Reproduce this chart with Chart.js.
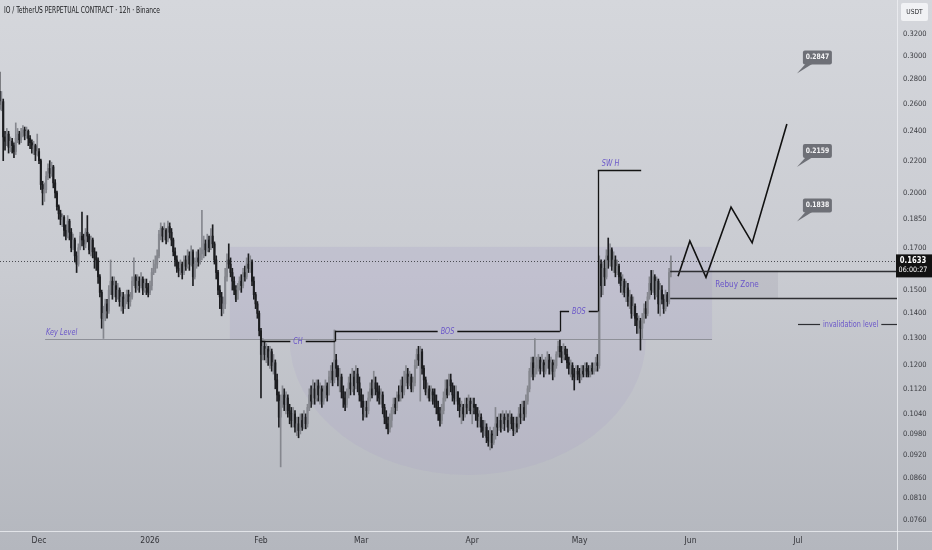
<!DOCTYPE html>
<html>
<head>
<meta charset="utf-8">
<title>IO / TetherUS PERPETUAL CONTRACT · 12h</title>
<script src="https://cdn.jsdelivr.net/npm/chart.js@4.4.1/dist/chart.umd.min.js"></script>
<style>
  html, body { margin: 0; padding: 0; background: #c6c8ce; }
  #wrap { width: 932px; height: 550px; }
</style>
</head>
<body>
<div id="wrap"><canvas id="chart" width="932" height="550"></canvas></div>
<script>
// prices are written in 0.0001 USDT (1633 = 0.1633)
const firstOpen = 2700;
const closes = [
  2600, 2620, 2360, 2330, 2380, 2290, 2330, 2300, 2260, 2350, 2380, 2340,
  2390, 2410, 2370, 2400, 2350, 2320, 2280, 2300, 2240,
  2260, 2200, 2050, 2000, 2020, 2100, 2150, 2120, 2160, 2060, 2000, 1920,
  1880, 1850, 1860, 1790, 1760, 1840, 1780, 1700, 1740, 1660, 1620,
  1700, 1760, 1740, 1720, 1780, 1760, 1690, 1740, 1680, 1650, 1640, 1560, 1490,
  1380, 1400, 1440, 1410, 1500, 1540, 1480, 1520, 1470, 1500,
  1450, 1470, 1430, 1460, 1480, 1450, 1470, 1540, 1560,
  1510, 1540, 1520, 1550, 1500, 1530, 1510, 1490, 1520, 1580, 1600, 1620, 1660,
  1770, 1800, 1760, 1790, 1740, 1810, 1780, 1740, 1680, 1640, 1600,
  1590, 1620, 1580, 1640, 1610, 1660, 1620, 1680, 1560, 1620, 1650, 1630, 1670, 1690,
  1720, 1690, 1740, 1700, 1760, 1720, 1640, 1580, 1500, 1470, 1420, 1440,
  1560, 1640, 1620, 1580, 1540, 1500, 1460, 1510, 1540, 1520, 1580, 1560, 1620, 1600, 1630, 1540, 1480, 1440, 1400, 1330, 1240, 1270,
  1240, 1260, 1230, 1250, 1200, 1210, 1150, 1100, 1030, 1080,
  1100, 1070, 1090, 1050, 1040, 1020, 1040, 1000, 1010, 990, 1020, 1000, 1030, 1010, 1060, 1100, 1080, 1120, 1090, 1130, 1100, 1120, 1080, 1110, 1130, 1100, 1160, 1180, 1150, 1220,
  1190, 1150, 1160, 1110, 1090, 1070, 1100, 1140, 1120, 1160, 1130, 1170, 1140, 1100,
  1080, 1040, 1060, 1050, 1090, 1120, 1100, 1140, 1120, 1110, 1090, 1100, 1060, 1030, 1010, 995, 1020, 1050, 1070, 1060,
  1100, 1090, 1130, 1110, 1150, 1170, 1140, 1160, 1120, 1140, 1200, 1240, 1220, 1250, 1190, 1150, 1110, 1120, 1090, 1110,
  1100, 1080, 1060, 1040, 1020, 1050, 1090, 1120, 1100, 1150, 1130, 1100, 1090, 1110, 1070, 1050, 1060, 1040, 1070, 1060,
  1080, 1050, 1070, 1060,
  1040, 1020, 1030, 1000, 990, 1000, 970, 960, 980, 955, 975, 1010, 1000, 1020, 1000, 1030, 1010, 1020, 1000, 1030,
  1010, 990, 1010, 1000, 1040, 1030, 1060, 1040, 1080, 1120, 1180, 1210, 1170, 1190,
  1200, 1220, 1190, 1210, 1180, 1200, 1220, 1190, 1210, 1180, 1200, 1240, 1270, 1250, 1230, 1260, 1240, 1210, 1190, 1200,
  1170, 1160, 1180, 1170, 1160, 1180, 1170, 1190, 1180, 1170, 1190, 1180, 1190, 1210, 1200, 1620,
  1520, 1600, 1560, 1660, 1640, 1690, 1610, 1640, 1580, 1610, 1560, 1520, 1540, 1490, 1510, 1450, 1470, 1400, 1430, 1380,
  1350, 1370, 1340, 1380, 1420, 1400, 1470, 1530, 1500, 1560, 1480, 1540, 1440, 1500, 1460, 1420, 1480, 1450, 1580, 1633
];
const highs = [
  2860, 2700, 2640, 2400, 2420, 2400, 2360, 2350, 2320, 2460, 2420, 2400,
  2420, 2440, 2430, 2430, 2410, 2370, 2340, 2330, 2310,
  2380, 2280, 2210, 2070, 2060, 2130, 2180, 2200, 2190, 2170, 2080, 2010,
  1930, 1900, 1880, 1870, 1820, 1870, 1850, 1800, 1770, 1750, 1680,
  1720, 1780, 1890, 1770, 1800, 1870, 1770, 1760, 1750, 1700, 1680, 1650, 1570,
  1500, 1430, 1460, 1460, 1520, 1640, 1560, 1560, 1540, 1530,
  1510, 1490, 1490, 1480, 1500, 1500, 1490, 1560, 1650,
  1570, 1570, 1560, 1580, 1560, 1550, 1550, 1530, 1540, 1600, 1640, 1660, 1690,
  1790, 1830, 1810, 1830, 1800, 1840, 1830, 1800, 1750, 1700, 1660,
  1630, 1640, 1630, 1660, 1660, 1690, 1680, 1710, 1690, 1650, 1680, 1690, 1700, 1900,
  1760, 1740, 1770, 1760, 1800, 1820, 1730, 1660, 1590, 1520, 1490, 1470,
  1600, 1670, 1720, 1650, 1600, 1560, 1520, 1530, 1560, 1570, 1600, 1610, 1650, 1670, 1660, 1640, 1560, 1490, 1450, 1410, 1340, 1300,
  1290, 1280, 1270, 1270, 1260, 1240, 1220, 1170, 1110, 1100,
  1130, 1120, 1110, 1100, 1070, 1060, 1060, 1050, 1030, 1030, 1040, 1040, 1050, 1040, 1070, 1120, 1130, 1150, 1140, 1150, 1150, 1140, 1130, 1130, 1150, 1140, 1180, 1200, 1210, 1333,
  1240, 1200, 1190, 1170, 1130, 1110, 1120, 1160, 1170, 1190, 1180, 1200, 1190, 1160,
  1120, 1100, 1080, 1080, 1110, 1140, 1150, 1180, 1160, 1140, 1130, 1120, 1110, 1070, 1050, 1030, 1040, 1060, 1090, 1090,
  1110, 1130, 1150, 1160, 1180, 1200, 1190, 1180, 1170, 1160, 1220, 1260, 1270, 1270, 1260, 1200, 1160, 1140, 1130, 1130,
  1120, 1120, 1100, 1080, 1060, 1070, 1110, 1150, 1150, 1170, 1170, 1140, 1130, 1130, 1110, 1090, 1080, 1070, 1090, 1090,
  1100, 1090, 1090, 1090,
  1070, 1060, 1050, 1040, 1020, 1020, 1010, 990, 1000, 990, 1000, 1060, 1030, 1040, 1040, 1050, 1040, 1050, 1040, 1050,
  1040, 1030, 1030, 1030, 1060, 1070, 1080, 1080, 1100, 1130, 1190, 1230, 1230, 1300,
  1230, 1240, 1230, 1240, 1220, 1230, 1250, 1240, 1230, 1220, 1220, 1250, 1290, 1294, 1270, 1280, 1270, 1260, 1230, 1220,
  1210, 1190, 1200, 1200, 1190, 1200, 1200, 1210, 1210, 1200, 1200, 1210, 1210, 1230, 1240, 1660,
  1640, 1630, 1640, 1690, 1750, 1720, 1700, 1680, 1660, 1640, 1620, 1580, 1570, 1550, 1540, 1530, 1500, 1480, 1470, 1440,
  1400, 1390, 1380, 1400, 1440, 1450, 1490, 1560, 1590, 1590, 1570, 1560, 1550, 1530, 1520, 1480, 1500, 1490, 1600, 1660
];
const lows = [
  2560, 2550, 2200, 2270, 2300, 2250, 2260, 2250, 2220, 2240, 2320, 2310,
  2320, 2360, 2340, 2350, 2300, 2280, 2250, 2240, 2200,
  2230, 2180, 2020, 1930, 1950, 2000, 2080, 2090, 2100, 2030, 1970, 1900,
  1850, 1820, 1810, 1760, 1740, 1750, 1740, 1680, 1690, 1630, 1580,
  1610, 1690, 1710, 1690, 1700, 1730, 1670, 1660, 1650, 1600, 1590, 1530, 1470,
  1340, 1300, 1370, 1380, 1400, 1480, 1460, 1470, 1450, 1460,
  1430, 1410, 1400, 1420, 1440, 1420, 1430, 1460, 1520,
  1490, 1500, 1490, 1510, 1480, 1490, 1480, 1470, 1480, 1500, 1570, 1580, 1600,
  1650, 1740, 1730, 1740, 1720, 1730, 1750, 1710, 1660, 1610, 1580,
  1560, 1570, 1550, 1570, 1590, 1600, 1590, 1610, 1520, 1550, 1600, 1610, 1620, 1640,
  1650, 1660, 1680, 1680, 1690, 1700, 1620, 1550, 1480, 1420, 1390, 1400,
  1420, 1540, 1600, 1560, 1500, 1480, 1450, 1470, 1500, 1490, 1510, 1540, 1550, 1580, 1580, 1520, 1460, 1420, 1380, 1310, 1090, 1220,
  1220, 1210, 1200, 1190, 1180, 1170, 1120, 1080, 1000, 889,
  1060, 1050, 1040, 1030, 1010, 1000, 1000, 985, 975, 969, 980, 990, 995, 995, 1000, 1050, 1060, 1070, 1070, 1080, 1080, 1070, 1060, 1070, 1090, 1080, 1100, 1140, 1130, 1140,
  1160, 1130, 1110, 1090, 1060, 1050, 1060, 1090, 1100, 1110, 1100, 1120, 1110, 1080,
  1060, 1021, 1030, 1030, 1040, 1080, 1090, 1100, 1100, 1080, 1070, 1070, 1040, 1010, 995, 980, 985, 1000, 1040, 1040,
  1050, 1080, 1080, 1090, 1100, 1130, 1120, 1130, 1110, 1110, 1130, 1190, 1200, 1080, 1170, 1120, 1100, 1090, 1080, 1080,
  1070, 1060, 1040, 1020, 1003, 1010, 1040, 1080, 1090, 1100, 1110, 1080, 1070, 1080, 1050, 1030, 1010, 1020, 1030, 1040,
  1050, 1040, 1010, 1040,
  1020, 1000, 1000, 985, 970, 975, 955, 945, 935, 940, 950, 965, 975, 990, 985, 995, 990, 1000, 985, 990,
  995, 975, 980, 985, 995, 1010, 1020, 1020, 1030, 1070, 1110, 1160, 1150, 1160,
  1170, 1180, 1170, 1180, 1160, 1170, 1190, 1170, 1170, 1150, 1160, 1190, 1230, 1230, 1210, 1220, 1220, 1190, 1170, 1160,
  1150, 1116, 1150, 1150, 1140, 1150, 1160, 1160, 1160, 1160, 1160, 1170, 1170, 1180, 1180, 1190,
  1470, 1480, 1520, 1550, 1600, 1610, 1590, 1580, 1560, 1570, 1530, 1490, 1480, 1470, 1450, 1430, 1420, 1380, 1390, 1350,
  1320, 1320, 1256, 1300, 1360, 1380, 1390, 1460, 1480, 1490, 1460, 1470, 1400, 1390, 1440, 1400, 1410, 1430, 1440, 1560
];

// time grid: days counted from 1 Jan 2026, one candle every 12h
const firstCandleDay = -42;
const candleStepDays = 0.5;

// axis labels
const monthDays = [-31, 0, 31, 59, 90, 120, 151, 181];
const monthLabels = ["Dec", "2026", "Feb", "Mar", "Apr", "May", "Jun", "Jul"];
const priceTicks = [0.32, 0.30, 0.28, 0.26, 0.24, 0.22, 0.20, 0.185, 0.17, 0.15, 0.14, 0.13,
                    0.12, 0.112, 0.104, 0.098, 0.092, 0.086, 0.081, 0.076];

// drawings on the chart (day, price)
const lastPrice = 0.1633;
const lastPriceTimer = "06:00:27";
const keyLevel = 0.1298;
const keyLevelDays = [-29.3, 157];
const cupTop = 0.1705;
const cupDays = [22.3, 157];
const cupBowlDays = [39, 138.5];
const cupBowlLow = 0.0868;
const structure = [
  { label: "CH",  price: 0.1290, from: 31.0,  to: 51.7 },
  { label: "BOS", price: 0.1330, from: 51.7,  to: 114.5 },
  { label: "BOS", price: 0.1410, from: 114.5, to: 125.1 }
];
const swingHigh = { label: "SW H", price: 0.2140, from: 125.1, to: 137.2 };
const rebuyTop = 0.1589;
const rebuyBottom = 0.1464;
const rebuyDays = [145.3, 175.4];
const invalidation = 0.1357;
const invalidationDays = [181, 188];
const pathDays = [147.5, 150.8, 155.3, 162.3, 168.2, 177.9];
const pathPrices = [0.1563, 0.1735, 0.1558, 0.1918, 0.1725, 0.2452];
const targets = [0.2847, 0.2159, 0.1838];
const targetDay = 180.7;

// build candles (open = previous close)
const day = i => firstCandleDay + i * candleStepDays;
const opens = closes.map((c, i) => i === 0 ? firstOpen : closes[i - 1]);
const upColor = "#85878e";
const downColor = "#1c1d20";
const candleColors = closes.map((c, i) => c >= opens[i] ? upColor : downColor);
const wickData = closes.map((c, i) => ({
  x: day(i),
  y: [Math.min(lows[i], opens[i], c) / 1e4, Math.max(highs[i], opens[i], c) / 1e4]
}));
const bodyData = closes.map((c, i) => ({ x: day(i), y: [opens[i] / 1e4, c / 1e4] }));
const pathData = pathDays.map((d, i) => ({ x: d, y: pathPrices[i] }));

const FONT = "'Liberation Sans Narrow', 'DejaVu Sans Condensed', 'Liberation Sans', sans-serif";
const PURPLE = "#6a56c9";

// text squeezed a bit in width like in the screenshot
function drawText(ctx, str, x, y, font, color, align, sx) {
  ctx.save();
  ctx.font = font;
  ctx.fillStyle = color;
  ctx.textBaseline = "middle";
  ctx.textAlign = align || "left";
  ctx.translate(x, y);
  ctx.scale(sx || 1, 1);
  ctx.fillText(str, 0, 0);
  ctx.restore();
}
function textWidth(ctx, str, font, sx) {
  ctx.save();
  ctx.font = font;
  const w = ctx.measureText(str).width * (sx || 1);
  ctx.restore();
  return w;
}
function hLine(ctx, x1, x2, y, color, w) {
  ctx.save();
  ctx.strokeStyle = color;
  ctx.lineWidth = w;
  ctx.beginPath();
  ctx.moveTo(x1, y);
  ctx.lineTo(x2, y);
  ctx.stroke();
  ctx.restore();
}
function vLine(ctx, x, y1, y2, color, w) {
  ctx.save();
  ctx.strokeStyle = color;
  ctx.lineWidth = w;
  ctx.beginPath();
  ctx.moveTo(x, y1);
  ctx.lineTo(x, y2);
  ctx.stroke();
  ctx.restore();
}

const overlay = {
  id: "overlay",
  beforeDraw(chart) {
    const { ctx, width, height } = chart;
    const g = ctx.createLinearGradient(0, 0, 0, height);
    g.addColorStop(0, "#d5d7dc");
    g.addColorStop(0.5, "#c9cbd1");
    g.addColorStop(1, "#b4b7be");
    ctx.save();
    ctx.fillStyle = g;
    ctx.fillRect(0, 0, width, height);
    ctx.restore();
  },
  beforeDatasetsDraw(chart) {
    const { ctx, chartArea } = chart;
    const X = v => chart.scales.x.getPixelForValue(v);
    const Y = v => chart.scales.y.getPixelForValue(v);
    ctx.save();
    ctx.beginPath();
    ctx.rect(chartArea.left, chartArea.top, chartArea.right - chartArea.left, chartArea.bottom - chartArea.top);
    ctx.clip();

    // cup zone: box above the key level and a bowl below it
    ctx.fillStyle = "rgba(140, 125, 195, 0.13)";
    ctx.fillRect(X(cupDays[0]), Y(cupTop), X(cupDays[1]) - X(cupDays[0]), Y(keyLevel) - Y(cupTop));
    const bx = (X(cupBowlDays[0]) + X(cupBowlDays[1])) / 2;
    const rx = (X(cupBowlDays[1]) - X(cupBowlDays[0])) / 2;
    const ry = Y(cupBowlLow) - Y(keyLevel);
    ctx.fillStyle = "rgba(140, 125, 195, 0.09)";
    ctx.beginPath();
    ctx.ellipse(bx, Y(keyLevel), rx, ry, 0, 0, Math.PI);
    ctx.fill();

    // rebuy zone box
    ctx.fillStyle = "rgba(150, 152, 162, 0.22)";
    ctx.fillRect(X(rebuyDays[0]), Y(rebuyTop), X(rebuyDays[1]) - X(rebuyDays[0]), Y(rebuyBottom) - Y(rebuyTop));

    // key level
    hLine(ctx, X(keyLevelDays[0]), X(keyLevelDays[1]), Math.round(Y(keyLevel)) + 0.5, "#8e9098", 1);

    // last price dotted line
    ctx.setLineDash([1, 2]);
    hLine(ctx, chartArea.left, chartArea.right, Math.round(Y(lastPrice)) + 0.5, "#4b4c52", 1);
    ctx.setLineDash([]);
    ctx.restore();
  },
  afterDatasetsDraw(chart) {
    const { ctx, chartArea } = chart;
    const X = v => chart.scales.x.getPixelForValue(v);
    const Y = v => chart.scales.y.getPixelForValue(v);
    const labelFont = "italic 8px " + FONT;
    const black = "#141414";

    drawText(ctx, "Key Level", X(keyLevelDays[0]) + 1, Y(keyLevel) - 6, labelFont, PURPLE, "left", 0.9);

    // CH / BOS lines with the label sitting in a gap of the line
    structure.forEach((s, i) => {
      const y = Math.round(Y(s.price)) + 0.5;
      const x1 = X(s.from), x2 = X(s.to);
      const mid = (x1 + x2) / 2;
      const half = textWidth(ctx, s.label, labelFont, 0.9) / 2 + 3;
      hLine(ctx, x1, mid - half, y, black, 1.5);
      hLine(ctx, mid + half, x2, y, black, 1.5);
      drawText(ctx, s.label, mid, y, labelFont, PURPLE, "center", 0.9);
      const next = i < structure.length - 1 ? structure[i + 1].price : swingHigh.price;
      vLine(ctx, Math.round(x2) + 0.5, y, Y(next), black, 1.3);
    });
    const sy = Math.round(Y(swingHigh.price)) + 0.5;
    hLine(ctx, X(swingHigh.from), X(swingHigh.to), sy, black, 1.5);
    drawText(ctx, swingHigh.label, X(swingHigh.from) + 4, sy - 7, labelFont, PURPLE, "left", 0.9);

    // rebuy zone lines
    hLine(ctx, X(rebuyDays[0]), chartArea.right, Math.round(Y(rebuyTop)) + 0.5, "#2e2f33", 1.5);
    hLine(ctx, X(rebuyDays[0]), chartArea.right, Math.round(Y(rebuyBottom)) + 0.5, "#2e2f33", 1.5);
    drawText(ctx, "Rebuy Zone", (X(rebuyDays[0]) + X(rebuyDays[1])) / 2 + 13,
      (Y(rebuyTop) + Y(rebuyBottom)) / 2, "8.5px " + FONT, PURPLE, "center", 0.95);

    // invalidation level
    const iy = Math.round(Y(invalidation)) + 0.5;
    const ix = X(invalidationDays[1]);
    const iw = textWidth(ctx, "invalidation level", "8px " + FONT, 0.9);
    hLine(ctx, X(invalidationDays[0]), ix - 3, iy, "#2e2f33", 1.2);
    drawText(ctx, "invalidation level", ix, iy, "8px " + FONT, PURPLE, "left", 0.9);
    hLine(ctx, ix + iw + 3, chartArea.right, iy, "#2e2f33", 1.2);

    // target price callouts
    targets.forEach(t => {
      const tx = X(targetDay), ty = Y(t);
      const bx = tx + 6, by = ty - 23, bw = 29, bh = 14;
      ctx.save();
      ctx.fillStyle = "#6e7077";
      ctx.beginPath();
      ctx.moveTo(tx, ty);
      ctx.lineTo(bx + 3, by + bh - 1);
      ctx.lineTo(bx + 10, by + bh - 1);
      ctx.closePath();
      ctx.fill();
      ctx.beginPath();
      ctx.roundRect(bx, by, bw, bh, 2);
      ctx.fill();
      ctx.restore();
      drawText(ctx, t.toFixed(4), bx + bw / 2, by + bh / 2, "bold 7.5px " + FONT, "#f4f4f6", "center", 0.9);
    });
  },
  afterDraw(chart) {
    const { ctx, chartArea, width, height } = chart;
    const Y = v => chart.scales.y.getPixelForValue(v);

    // pane separators
    vLine(ctx, chartArea.right + 0.5, 0, height, "rgba(238, 239, 243, 0.8)", 1);
    hLine(ctx, 0, width, chartArea.bottom + 0.5, "rgba(238, 239, 243, 0.8)", 1);

    // title, squeezed to the width it has in the screenshot
    const title = "IO / TetherUS PERPETUAL CONTRACT · 12h · Binance";
    const titleFont = "500 9.5px " + FONT;
    drawText(ctx, title, 4, 11, titleFont, "#18191c", "left", 156 / textWidth(ctx, title, titleFont, 1));

    // currency box
    ctx.save();
    ctx.fillStyle = "rgba(242, 243, 246, 0.95)";
    ctx.beginPath();
    ctx.roundRect(chartArea.right + 4, 3, 27, 18, 2);
    ctx.fill();
    ctx.restore();
    drawText(ctx, "USDT", chartArea.right + 17.5, 12, "7px " + FONT, "#2b2c30", "center", 0.95);

    // last price label
    const ly = Y(lastPrice);
    ctx.save();
    ctx.fillStyle = "#121212";
    ctx.fillRect(chartArea.right - 1, ly - 7, width - chartArea.right + 1, 23);
    ctx.restore();
    drawText(ctx, lastPrice.toFixed(4), chartArea.right + 16, ly, "bold 8px " + FONT, "#ffffff", "center", 0.95);
    drawText(ctx, lastPriceTimer, chartArea.right + 16, ly + 9, "7.5px " + FONT, "#ffffff", "center", 0.95);
  }
};

new Chart(document.getElementById("chart"), {
  type: "bar",
  data: {
    datasets: [
      {
        label: "wicks",
        data: wickData,
        backgroundColor: candleColors,
        barThickness: 1,
        grouped: false,
        order: 3
      },
      {
        label: "bodies",
        data: bodyData,
        backgroundColor: candleColors,
        barThickness: 1.4,
        minBarLength: 1,
        grouped: false,
        order: 2
      },
      {
        type: "line",
        label: "projection",
        data: pathData,
        borderColor: "#111111",
        borderWidth: 1.6,
        pointRadius: 0,
        tension: 0,
        order: 1
      }
    ]
  },
  options: {
    responsive: false,
    animation: false,
    layout: { padding: 0 },
    plugins: { legend: { display: false }, tooltip: { enabled: false } },
    scales: {
      x: {
        type: "linear",
        offset: false,
        bounds: "data",
        min: -41.9,
        max: 208.66,
        grid: { display: false, drawTicks: false },
        border: { display: false },
        afterFit: axis => { axis.height = 19; axis.paddingLeft = 0; axis.paddingRight = 0; },
        afterBuildTicks: axis => { axis.ticks = monthDays.map(v => ({ value: v })); },
        ticks: {
          autoSkip: false,
          maxRotation: 0,
          padding: 5,
          color: "#34353a",
          font: { family: FONT, size: 8.5 },
          callback: v => monthLabels[monthDays.indexOf(v)]
        }
      },
      y: {
        type: "logarithmic",
        position: "right",
        bounds: "data",
        min: 0.07354,
        max: 0.3539,
        grid: { display: false, drawTicks: false },
        border: { display: false },
        afterFit: axis => { axis.width = 35; axis.paddingTop = 0; axis.paddingBottom = 0; },
        afterBuildTicks: axis => { axis.ticks = priceTicks.map(v => ({ value: v })); },
        ticks: {
          autoSkip: false,
          padding: 6,
          color: "#3a3b40",
          font: { family: FONT, size: 7.5 },
          callback: v => Number(v).toFixed(4)
        }
      }
    }
  },
  plugins: [overlay]
});
</script>
</body>
</html>
